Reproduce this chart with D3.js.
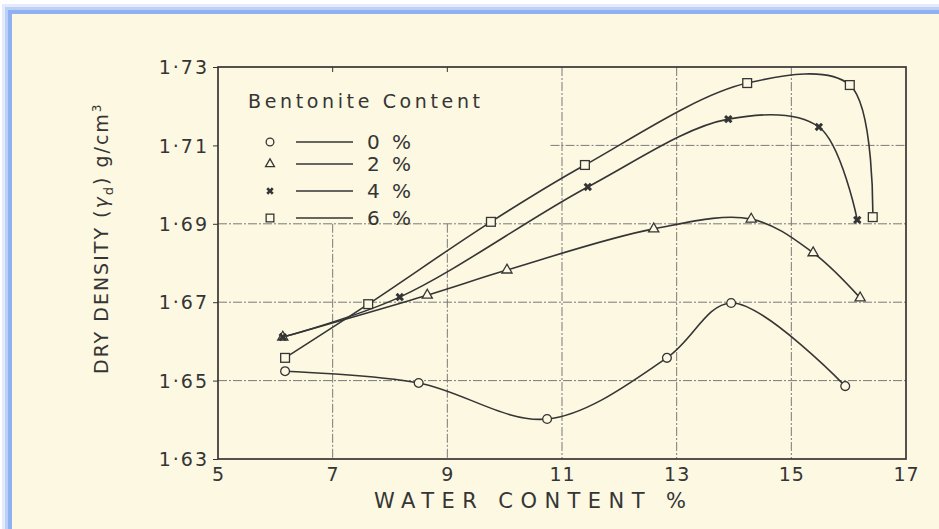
<!DOCTYPE html>
<html>
<head>
<meta charset="utf-8">
<script src="https://cdn.jsdelivr.net/npm/d3@7"></script>
<style>
  html, body { margin: 0; padding: 0; background: #ffffff; }
  svg { display: block; }
  text { font-family: "DejaVu Sans", "Liberation Sans", sans-serif; fill: #353535; }
</style>
</head>
<body>
<svg id="chart" width="939" height="529"></svg>
<script>
// Water content (%) and dry density (g/cm3) for each bentonite content
const water0 = [6.17, 8.5, 10.74, 12.83, 13.95, 15.94];
const dens0  = [1.6524, 1.6494, 1.6402, 1.6558, 1.6698, 1.6486];

const water2 = [6.13, 8.65, 10.04, 12.6, 14.3, 15.38, 16.2];
const dens2  = [1.6611, 1.6718, 1.6782, 1.6887, 1.6912, 1.6826, 1.6711];

const water4 = [6.13, 8.17, 11.45, 13.9, 15.48, 16.15];
const dens4  = [1.6611, 1.6713, 1.6994, 1.7167, 1.7147, 1.691];

const water6 = [6.17, 7.62, 9.76, 11.4, 14.23, 16.02, 16.42];
const dens6  = [1.6558, 1.6695, 1.6905, 1.705, 1.7259, 1.7254, 1.6917];

const seriesNames = ["0 %", "2 %", "4 %", "6 %"];
const seriesShapes = ["circle", "triangle", "cross", "square"];

const xTicks = [5, 7, 9, 11, 13, 15, 17];
const yTicks = [1.63, 1.65, 1.67, 1.69, 1.71, 1.73];

const legendTitle = "Bentonite Content";
const xTitle = "WATER CONTENT %";

const series = [
  { water: water0, dens: dens0 },
  { water: water2, dens: dens2 },
  { water: water4, dens: dens4 },
  { water: water6, dens: dens6 }
].map((s, i) => ({
  name: seriesNames[i],
  shape: seriesShapes[i],
  points: s.water.map((w, j) => ({ w, d: s.dens[j] }))
}));

const svg = d3.select("#chart");
const ink = "#353535";
const paper = "#fcf8e2";

// page frame with a soft blue edge
svg.append("rect").attr("x", 2).attr("y", 4).attr("width", 980).attr("height", 580).attr("fill", "#e3ebfc");
svg.append("rect").attr("x", 5).attr("y", 7).attr("width", 980).attr("height", 580).attr("fill", "#bcd0f7");
svg.append("rect").attr("x", 8).attr("y", 10).attr("width", 980).attr("height", 580).attr("fill", "#8fb1f1");
svg.append("rect").attr("x", 12).attr("y", 14).attr("width", 980).attr("height", 580).attr("fill", paper);

const x = d3.scaleLinear().domain([5, 17]).range([218, 906]);
const y = d3.scaleLinear().domain([1.63, 1.73]).range([459, 67]);

// grid
const grid = svg.append("g").attr("stroke", "#7a7a7a").attr("stroke-width", 1)
  .attr("stroke-dasharray", "9,2,2,2").attr("fill", "none");
[7, 9].forEach(v => grid.append("line")
  .attr("x1", x(v)).attr("x2", x(v)).attr("y1", y(1.69)).attr("y2", y(1.63)));
[11, 13, 15].forEach(v => grid.append("line")
  .attr("x1", x(v)).attr("x2", x(v)).attr("y1", y(1.73)).attr("y2", y(1.63)));
[1.65, 1.67, 1.69].forEach(v => grid.append("line")
  .attr("x1", x(5)).attr("x2", x(17)).attr("y1", y(v)).attr("y2", y(v)));
grid.append("line").attr("x1", x(10.8)).attr("x2", x(17)).attr("y1", y(1.71)).attr("y2", y(1.71));

// plot frame
svg.append("rect")
  .attr("x", x(5)).attr("y", y(1.73))
  .attr("width", x(17) - x(5)).attr("height", y(1.63) - y(1.73))
  .attr("fill", "none").attr("stroke", ink).attr("stroke-width", 1.7);

// axes
const fmtY = d => d3.format(".2f")(d).replace(".", "\u00b7");
const yAxis = svg.append("g").attr("transform", `translate(${x(5)},0)`)
  .call(d3.axisLeft(y).tickValues(yTicks).tickFormat(fmtY).tickSize(5).tickPadding(4));
yAxis.select(".domain").remove();
yAxis.selectAll("line").attr("stroke", ink);
yAxis.selectAll("text").style("font-size", "19px").attr("letter-spacing", "2px").attr("dy", "0.35em");

const xAxis = svg.append("g").attr("transform", `translate(0,${y(1.63)})`)
  .call(d3.axisBottom(x).tickValues(xTicks).tickFormat(d3.format("d")).tickSize(0).tickPadding(9));
xAxis.select(".domain").remove();
xAxis.selectAll("text").style("font-size", "19px").attr("letter-spacing", "1px");

// top frame ticks
svg.append("g").selectAll("line").data([7, 9]).join("line")
  .attr("x1", d => x(d)).attr("x2", d => x(d))
  .attr("y1", y(1.73)).attr("y2", y(1.73) + 5)
  .attr("stroke", ink).attr("stroke-width", 1);

// axis titles
svg.append("text")
  .attr("x", 374).attr("y", 508)
  .attr("textLength", 312).attr("lengthAdjust", "spacing")
  .style("font-size", "21px")
  .text(xTitle);

const yTitle = svg.append("text")
  .attr("transform", "translate(108,374) rotate(-90)")
  .style("font-size", "19px")
  .attr("letter-spacing", "2px");
yTitle.append("tspan").text("DRY  DENSITY  (");
yTitle.append("tspan").style("font-style", "italic").text("\u03b3");
yTitle.append("tspan").attr("dy", 5).style("font-size", "13px").text("d");
yTitle.append("tspan").attr("dy", -5).text(")  g/cm");
yTitle.append("tspan").attr("dy", -7).style("font-size", "12px").text("3");

// marker drawing
function marker(g, shape, size) {
  if (shape === "circle") {
    g.append("circle").attr("r", size * 0.55).attr("fill", paper).attr("stroke", ink).attr("stroke-width", 1.3);
  } else if (shape === "square") {
    g.append("rect").attr("x", -size * 0.55).attr("y", -size * 0.55)
      .attr("width", size * 1.1).attr("height", size * 1.1)
      .attr("fill", paper).attr("stroke", ink).attr("stroke-width", 1.3);
  } else if (shape === "triangle") {
    g.append("path").attr("d", d3.symbol(d3.symbolTriangle, size * size * 0.7)())
      .attr("fill", paper).attr("stroke", ink).attr("stroke-width", 1.3);
  } else {
    g.append("path").attr("d", d3.symbol(d3.symbolCross, size * size * 0.7)())
      .attr("transform", "rotate(45)").attr("fill", ink);
  }
}

// curves
const line = d3.line()
  .x(p => x(p.w)).y(p => y(p.d))
  .curve(d3.curveCatmullRom.alpha(0.5));

series.forEach(s => {
  svg.append("path").datum(s.points)
    .attr("d", line).attr("fill", "none")
    .attr("stroke", ink).attr("stroke-width", 1.6);
});
series.forEach(s => {
  svg.append("g").selectAll("g").data(s.points).join("g")
    .attr("transform", p => `translate(${x(p.w)},${y(p.d)})`)
    .each(function () { marker(d3.select(this), s.shape, 8); });
});

// legend
svg.append("text").attr("x", 248).attr("y", 108)
  .attr("textLength", 232).attr("lengthAdjust", "spacing")
  .style("font-size", "19px").text(legendTitle);
const legendRows = [142, 164, 191, 218];
series.forEach((s, i) => {
  const g = svg.append("g").attr("transform", `translate(0,${legendRows[i]})`);
  const m = g.append("g").attr("transform", "translate(270,0)");
  marker(m, s.shape, 7);
  g.append("line").attr("x1", 296).attr("x2", 353).attr("y1", 0).attr("y2", 0)
    .attr("stroke", ink).attr("stroke-width", 1.3);
  g.append("text").attr("x", 367).attr("y", 7)
    .style("font-size", "20px").attr("letter-spacing", "3px").text(s.name);
});
</script>
</body>
</html>
